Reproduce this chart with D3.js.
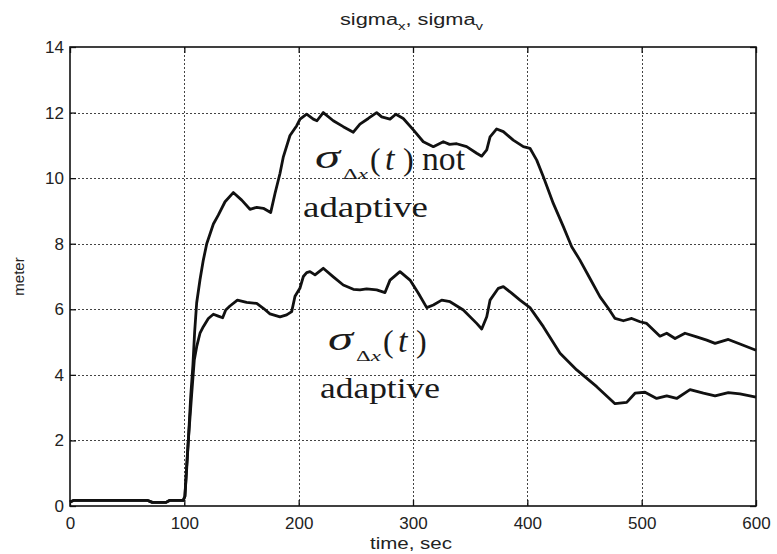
<!doctype html>
<html lang="en">
<head>
<meta charset="utf-8">
<title>sigma_x, sigma_v</title>
<script src="https://d3js.org/d3.v7.min.js"></script>
<style>
    body { margin: 0; background: #fff; }
    .tick-label { font-family: "Liberation Sans", Arial, sans-serif; font-size: 17px; fill: #222; }
    .label { font-family: "Liberation Sans", Arial, sans-serif; fill: #222; }
    .curve { fill: none; stroke: #111; stroke-width: 2.8px; stroke-linejoin: round; }
    .note { font-family: "Liberation Serif", "Times New Roman", serif; fill: #1a1a1a; }
</style>
</head>
<body>
<svg width="777" height="554"></svg>
<script>
// sigma without adaptation (upper curve)
var timeNot = [0, 3, 68, 72, 84, 87, 99, 100.5, 102, 103.5, 105.5, 107.5, 109, 110.8, 113.7, 116.6, 119.6,
    125.4, 129.7, 135.6, 142.8, 150.2, 157.4, 163.3, 169.1, 175.5, 179.3, 183.7, 186.6, 192.4, 198.3,
    201.2, 207, 212.8, 216, 221.5, 230.3, 239, 247.8, 253.6, 260.9, 268.2, 272.6, 279.9, 285, 291.5,
    300.3, 309, 317.8, 326.5, 332, 338.2, 346.9, 355.7, 360.1, 364.5, 367.4, 373.2, 379, 387.7, 396.5,
    402.3, 408.2, 414, 422.7, 431.5, 438.8, 446, 454.8, 463.6, 470.8, 476.7, 484, 491.3, 498.6, 504.4,
    516, 521.9, 529.2, 537.9, 548.1, 556.9, 564.2, 575.8, 586, 600];
var sigmaNot = [0.12, 0.17, 0.17, 0.11, 0.11, 0.17, 0.17, 0.3, 1.2, 2.0, 3.3, 4.3, 5.3, 6.2, 6.9, 7.5, 8.0,
    8.6, 8.87, 9.28, 9.56, 9.33, 9.05, 9.11, 9.08, 8.95, 9.53, 10.15, 10.65, 11.3, 11.6,
    11.8, 11.95, 11.8, 11.75, 12.0, 11.75, 11.57, 11.4, 11.65, 11.82, 12.0, 11.87, 11.8, 11.95, 11.82,
    11.47, 11.11, 10.96, 11.11, 11.03, 11.05, 10.96, 10.76, 10.67, 10.86, 11.26, 11.5, 11.42, 11.16, 10.96,
    10.91, 10.55, 10.04, 9.23, 8.52, 7.91, 7.5, 6.94, 6.38, 6.03, 5.72, 5.65, 5.72, 5.62, 5.57,
    5.18, 5.27, 5.11, 5.27, 5.16, 5.06, 4.96, 5.08, 4.94, 4.75];

// sigma with adaptation (lower curve)
var timeAdapt = [0, 3, 68, 72, 84, 87, 99, 100.5, 102, 103.5, 106.4, 108.7, 110.8, 113.7, 116.6, 121,
    125.4, 129.7, 133.5, 136.2, 139.9, 146.4, 154.5, 163.3, 169.1, 174.9, 183.7, 189.5, 193.9, 196.8,
    201.2, 204.1, 207, 209.9, 214.3, 221.5, 230.3, 239, 247.8, 253.6, 259.4, 268.2, 275.5, 279.9, 288.6,
    297.4, 304.7, 312, 317.8, 325.1, 332.4, 344, 355.7, 360.1, 364.5, 367.4, 374.6, 379, 386, 393.6,
    402.3, 414, 428.6, 443.2, 460.7, 476.7, 486.9, 494.2, 502.9, 513.1, 521.9, 530.6, 542.3, 554, 564.2,
    575.8, 586, 600];
var sigmaAdapt = [0.12, 0.17, 0.17, 0.11, 0.11, 0.17, 0.17, 0.3, 1.1, 2.0, 3.4, 4.45, 4.86, 5.27, 5.47, 5.72,
    5.85, 5.79, 5.74, 5.98, 6.1, 6.28, 6.21, 6.18, 6.03, 5.86, 5.77, 5.83, 5.93, 6.4,
    6.65, 7.0, 7.12, 7.15, 7.05, 7.25, 6.99, 6.74, 6.61, 6.59, 6.62, 6.59, 6.51, 6.89, 7.15,
    6.89, 6.49, 6.05, 6.13, 6.28, 6.23, 5.98, 5.57, 5.4, 5.77, 6.28, 6.64, 6.69, 6.5, 6.28,
    6.05, 5.47, 4.66, 4.15, 3.64, 3.12, 3.16, 3.44, 3.47, 3.28, 3.36, 3.28, 3.55, 3.44, 3.36,
    3.46, 3.42, 3.32];

var xTicks = [0, 100, 200, 300, 400, 500, 600];
var yTicks = [0, 2, 4, 6, 8, 10, 12, 14];

var margin = {left: 70, top: 47, right: 21, bottom: 48};
var svg = d3.select("svg");
var width = 777 - margin.left - margin.right;
var height = 554 - margin.top - margin.bottom;

var g = svg.append("g")
    .attr("transform", "translate(" + margin.left + "," + margin.top + ")");

var xScale = d3.scaleLinear().domain([0, 600]).range([0, width]);
var yScale = d3.scaleLinear().domain([0, 14]).range([height, 0]);

// dotted grid, snapped to whole pixels so the dots stay visible
function snap(v) { return Math.round(v) + 0.5; }

var grid = g.append("g")
    .attr("stroke", "#444")
    .attr("stroke-width", 1.2)
    .attr("stroke-dasharray", "2,2")
    .attr("shape-rendering", "crispEdges");

grid.selectAll(".vgrid")
    .data(xTicks.slice(1, -1))
    .enter().append("line")
    .attr("class", "vgrid")
    .attr("x1", function(d) { return snap(xScale(d)); })
    .attr("x2", function(d) { return snap(xScale(d)); })
    .attr("y1", 0)
    .attr("y2", height);

grid.selectAll(".hgrid")
    .data(yTicks.slice(1, -1))
    .enter().append("line")
    .attr("class", "hgrid")
    .attr("x1", 0)
    .attr("x2", width)
    .attr("y1", function(d) { return snap(yScale(d)); })
    .attr("y2", function(d) { return snap(yScale(d)); });

// axes with inward ticks on all four sides (matlab style)
var tickLen = 6;
g.append("g")
    .attr("transform", "translate(0," + height + ")")
    .call(d3.axisBottom(xScale).tickValues(xTicks).tickSize(-tickLen).tickPadding(11));
g.append("g")
    .call(d3.axisTop(xScale).tickValues(xTicks).tickSize(-tickLen).tickFormat(""));
g.append("g")
    .call(d3.axisLeft(yScale).tickValues(yTicks).tickSize(-tickLen).tickPadding(6));
g.append("g")
    .attr("transform", "translate(" + width + ",0)")
    .call(d3.axisRight(yScale).tickValues(yTicks).tickSize(-tickLen).tickFormat(""));

g.selectAll(".domain").remove();
g.selectAll(".tick line").attr("stroke", "#111").attr("stroke-width", 1.3);
g.selectAll(".tick text").attr("class", "tick-label").attr("fill", null);

g.append("rect")
    .attr("width", width)
    .attr("height", height)
    .attr("fill", "none")
    .attr("stroke", "#111")
    .attr("stroke-width", 1.6);

// curves
var line = d3.line()
    .x(function(d) { return xScale(d[0]); })
    .y(function(d) { return yScale(d[1]); });

g.append("path")
    .attr("class", "curve")
    .attr("d", line(d3.zip(timeNot, sigmaNot)));
g.append("path")
    .attr("class", "curve")
    .attr("d", line(d3.zip(timeAdapt, sigmaAdapt)));

// annotations: sigma_dx(t)
function sigmaNote(x, y) {
    var n = svg.append("g").attr("class", "note");
    n.append("text").attr("x", x).attr("y", y - 2).style("font-size", "33px").style("font-style", "italic")
        .attr("textLength", 25).attr("lengthAdjust", "spacingAndGlyphs").text("σ");
    var sub = n.append("text").attr("x", x + 28).attr("y", y + 9).style("font-size", "15px")
        .attr("textLength", 25).attr("lengthAdjust", "spacingAndGlyphs");
    sub.append("tspan").text("Δ");
    sub.append("tspan").style("font-style", "italic").text("x");
    n.append("text").attr("x", x + 55).attr("y", y).style("font-size", "32px").text("(");
    n.append("text").attr("x", x + 70).attr("y", y).style("font-size", "34px").style("font-style", "italic")
        .text("t");
    n.append("text").attr("x", x + 88).attr("y", y).style("font-size", "32px").text(")");
    return n;
}

sigmaNote(315, 170)
    .append("text").attr("x", 422).attr("y", 170).style("font-size", "33px")
    .attr("textLength", 43).attr("lengthAdjust", "spacingAndGlyphs").text("not");
svg.append("text").attr("class", "note").attr("x", 303).attr("y", 217).style("font-size", "29px")
    .attr("textLength", 125).attr("lengthAdjust", "spacingAndGlyphs").text("adaptive");

sigmaNote(328, 352);
svg.append("text").attr("class", "note").attr("x", 320).attr("y", 398).style("font-size", "29px")
    .attr("textLength", 120).attr("lengthAdjust", "spacingAndGlyphs").text("adaptive");

// title and axis labels
var title = svg.append("text")
    .attr("class", "label")
    .attr("x", 340)
    .attr("y", 25)
    .attr("textLength", 143)
    .attr("lengthAdjust", "spacingAndGlyphs")
    .style("font-size", "16px");
title.append("tspan").text("sigma");
title.append("tspan").attr("dy", 5).style("font-size", "11px").text("x");
title.append("tspan").attr("dy", -5).text(", sigma");
title.append("tspan").attr("dy", 5).style("font-size", "11px").text("v");

svg.append("text")
    .attr("class", "label")
    .attr("x", 370)
    .attr("y", 549)
    .attr("textLength", 82)
    .attr("lengthAdjust", "spacingAndGlyphs")
    .style("font-size", "16px")
    .text("time, sec");

svg.append("text")
    .attr("class", "label")
    .attr("transform", "translate(24," + (margin.top + height / 2) + ") rotate(-90)")
    .attr("text-anchor", "middle")
    .style("font-size", "15px")
    .text("meter");
</script>
</body>
</html>
